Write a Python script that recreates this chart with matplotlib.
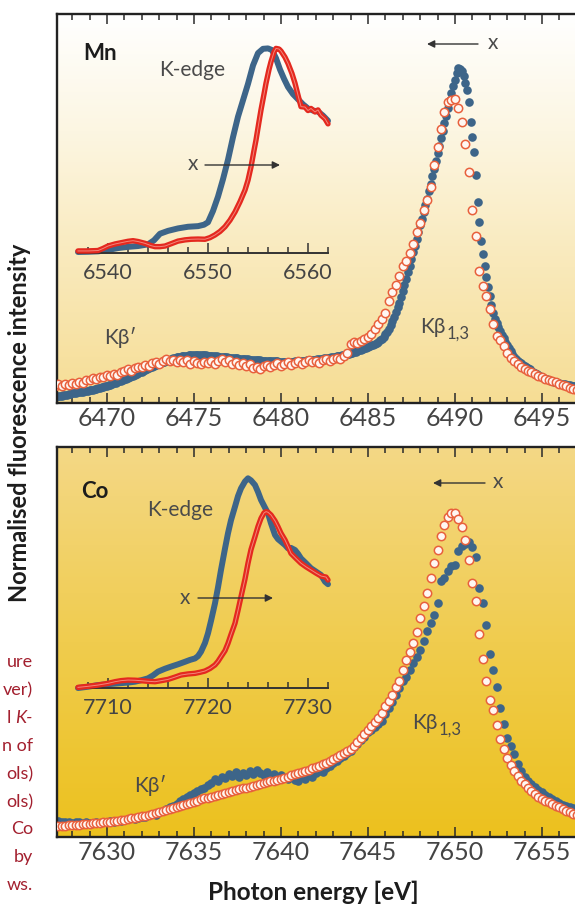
import numpy as np
import matplotlib
matplotlib.use("Agg")
import matplotlib.pyplot as plt
from matplotlib.ticker import MultipleLocator, FormatStrFormatter
from matplotlib.text import Annotation

plt.rcParams['font.family'] = ['Lato', 'Noto Sans', 'DejaVu Sans']

# ---------------------------------------------------------------- data
# Kbeta emission spectra, normalised intensity (x1000)
mn_kb_energy_blue = np.linspace(6467.0, 6497.0, 301)
mn_kb_blue = [
    18, 19, 20, 21, 22, 23, 24, 25, 26, 28,
    29, 30, 31, 32, 33, 33, 34, 35, 36, 37,
    38, 39, 40, 41, 43, 44, 45, 47, 48, 50,
    52, 53, 55, 57, 59, 61, 63, 65, 67, 69,
    71, 73, 76, 78, 80, 82, 85, 87, 89, 92,
    94, 96, 99, 101, 103, 106, 108, 110, 113, 115,
    117, 119, 121, 123, 125, 127, 129, 131, 133, 135,
    136, 137, 138, 139, 140, 141, 141, 142, 142, 143,
    143, 143, 143, 143, 143, 142, 142, 142, 141, 141,
    140, 140, 139, 139, 138, 138, 137, 137, 136, 136,
    135, 135, 134, 134, 133, 133, 132, 132, 131, 131,
    130, 130, 129, 129, 128, 128, 127, 127, 127, 126,
    126, 126, 125, 125, 125, 124, 124, 124, 124, 123,
    123, 123, 123, 123, 123, 123, 123, 123, 124, 124,
    124, 125, 125, 126, 126, 127, 127, 128, 128, 129,
    129, 130, 131, 131, 132, 133, 134, 135, 135, 136,
    137, 138, 139, 140, 141, 142, 143, 144, 146, 147,
    148, 150, 151, 153, 155, 157, 159, 161, 163, 165,
    167, 169, 172, 174, 177, 180, 183, 187, 192, 198,
    205, 213, 222, 233, 245, 258, 272, 286, 300, 317,
    335, 352, 370, 390, 410, 430, 450, 470, 490, 510,
    530, 550, 570, 590, 610, 633, 655, 678, 700, 722,
    745, 768, 790, 813, 835, 857, 880, 903, 925, 947,
    965, 985, 1000, 998, 990, 975, 955, 935, 900, 840,
    795, 750, 680, 600, 540, 485, 445, 410, 375, 345,
    318, 292, 268, 252, 238, 226, 215, 203, 193, 182,
    172, 163, 154, 146, 138, 132, 126, 122, 118, 114,
    110, 107, 103, 100, 96, 93, 90, 87, 83, 80,
    77, 75, 73, 71, 69, 67, 65, 63, 62, 60,
    59, 58, 57, 56, 55, 54, 53, 52, 51, 50,
    49,
]
mn_kb_energy_red = np.linspace(6467.0, 6497.0, 151)
mn_kb_red = [
    50, 56, 52, 58, 55, 60, 57, 64, 61, 68,
    70, 75, 72, 79, 77, 83, 80, 88, 85, 92,
    95, 100, 97, 104, 108, 106, 113, 110, 118, 121,
    117, 126, 130, 124, 129, 121, 127, 122, 128, 117,
    124, 119, 116, 123, 118, 125, 117, 124, 130, 121,
    127, 116, 122, 113, 119, 110, 115, 104, 108, 102,
    109, 113, 106, 112, 118, 110, 117, 121, 114, 119,
    124, 117, 122, 128, 121, 126, 120, 127, 131, 125,
    130, 135, 131, 140, 148, 176, 181, 178, 186, 190,
    196, 205, 220, 236, 252, 270, 305, 332, 352, 380,
    410, 425, 447, 475, 510, 538, 575, 605, 645, 710,
    765, 818, 868, 898, 905, 906, 880, 840, 772, 690,
    575, 500, 395, 350, 320, 282, 235, 200, 188, 170,
    150, 135, 126, 116, 108, 102, 97, 92, 87, 82,
    77, 73, 69, 65, 62, 58, 54, 50, 46, 42,
    40,
]
co_kb_energy = np.linspace(7627.0, 7657.0, 151)
co_kb_blue = [
    45, 47, 46, 44, 45, 43, 46, 44, 42, 45,
    43, 41, 44, 42, 46, 44, 47, 45, 49, 47,
    51, 54, 56, 53, 58, 61, 59, 65, 68, 66,
    74, 79, 85, 89, 94, 100, 108, 113, 118, 124,
    130, 136, 142, 147, 156, 161, 172, 168, 180, 176,
    188, 182, 193, 179, 190, 184, 196, 188, 200, 192,
    185, 195, 183, 188, 178, 186, 176, 172, 181, 170,
    166, 178, 174, 185, 180, 190, 198, 195, 207, 213,
    220, 228, 235, 242, 250, 258, 268, 278, 290, 300,
    312, 320, 328, 336, 345, 368, 385, 402, 425, 445,
    465, 479, 499, 518, 538, 558, 585, 615, 640, 662,
    700, 765, 772, 795, 808, 812, 855, 868, 874, 882,
    866, 835, 742, 700, 632, 545, 498, 449, 386, 336,
    296, 272, 248, 218, 196, 178, 167, 157, 150, 140,
    133, 126, 119, 112, 106, 101, 97, 93, 89, 86,
    84,
]
co_kb_red = [
    32, 33, 34, 34, 35, 36, 36, 37, 38, 39,
    40, 41, 42, 43, 44, 45, 46, 47, 49, 50,
    52, 54, 56, 58, 60, 62, 64, 67, 69, 71,
    74, 77, 80, 83, 86, 89, 92, 95, 98, 101,
    104, 108, 112, 115, 117, 120, 123, 126, 128, 131,
    134, 137, 139, 142, 145, 147, 150, 152, 155, 157,
    160, 163, 166, 168, 171, 174, 177, 180, 184, 187,
    190, 194, 197, 201, 205, 209, 213, 218, 222, 227,
    232, 238, 244, 250, 257, 264, 272, 284, 296, 308,
    320, 331, 343, 355, 370, 390, 405, 423, 448, 465,
    498, 527, 552, 578, 613, 655, 690, 728, 772, 817,
    858, 898, 930, 955, 966, 968, 950, 925, 886, 826,
    758, 705, 605, 530, 465, 410, 379, 334, 292, 263,
    237, 216, 197, 181, 168, 157, 147, 137, 128, 120,
    113, 108, 103, 98, 94, 89, 84, 79, 74, 70,
    67,
]

# K-edge absorption spectra (insets), normalised
mn_edge_blue_e = [6537.0, 6538.0, 6539.0, 6540.0, 6541.0, 6542.0, 6543.0, 6544.0,
                  6544.6, 6545.2, 6546.0, 6547.0, 6548.0, 6549.0, 6549.6, 6550.0,
                  6550.5, 6551.0, 6551.5, 6552.0, 6552.5, 6553.0, 6553.5, 6554.0,
                  6554.5, 6555.0, 6555.5, 6556.0, 6556.4, 6556.8, 6557.2, 6557.6,
                  6558.0, 6558.5, 6559.0, 6559.5, 6560.0, 6560.5, 6561.0, 6561.5, 6562.0]
mn_edge_blue = [0.005, 0.006, 0.008, 0.015, 0.024, 0.030, 0.034, 0.042,
                0.062, 0.094, 0.108, 0.120, 0.128, 0.131, 0.138, 0.150,
                0.205, 0.275, 0.360, 0.455, 0.565, 0.665, 0.745, 0.825,
                0.915, 0.975, 0.996, 0.998, 0.990, 0.950, 0.895, 0.850,
                0.810, 0.775, 0.750, 0.725, 0.705, 0.695, 0.690, 0.670, 0.645]
mn_edge_red_e = [6537.0, 6538.0, 6539.0, 6539.5, 6540.0, 6540.7, 6541.3, 6542.0,
                 6542.5, 6543.0, 6543.7, 6544.3, 6544.7, 6545.2, 6545.7, 6546.3,
                 6547.0, 6547.7, 6548.3, 6549.0, 6549.7, 6550.2, 6550.7, 6551.2,
                 6551.7, 6552.2, 6552.7, 6553.2, 6553.7, 6554.0, 6554.3, 6554.6,
                 6554.8, 6555.1, 6555.3, 6555.6, 6555.8, 6556.1, 6556.3, 6556.6,
                 6556.8, 6557.1, 6557.3, 6557.7, 6558.0, 6558.4, 6558.7, 6559.0,
                 6559.3, 6559.7, 6560.0, 6560.3, 6560.7, 6561.0, 6561.3, 6561.7, 6562.0]
mn_edge_red = [0.010, 0.010, 0.012, 0.022, 0.034, 0.044, 0.050, 0.057,
               0.060, 0.056, 0.047, 0.036, 0.031, 0.031, 0.034, 0.045,
               0.058, 0.064, 0.067, 0.068, 0.067, 0.075, 0.088, 0.105,
               0.128, 0.160, 0.200, 0.250, 0.307, 0.355, 0.420, 0.500,
               0.551, 0.640, 0.698, 0.775, 0.828, 0.895, 0.933, 0.980,
               0.998, 0.995, 0.985, 0.955, 0.925, 0.875, 0.828, 0.770,
               0.714, 0.712, 0.695, 0.705, 0.688, 0.698, 0.672, 0.655, 0.630]

co_edge_blue_e = [7707.0, 7708.0, 7709.0, 7710.0, 7711.0, 7712.0, 7712.7, 7713.4,
                  7714.0, 7714.5, 7715.0, 7715.7, 7716.3, 7717.0, 7717.7, 7718.2,
                  7718.7, 7719.0, 7719.3, 7719.7, 7720.0, 7720.3, 7720.7, 7721.0,
                  7721.3, 7721.7, 7722.0, 7722.3, 7722.7, 7723.0, 7723.3, 7723.7,
                  7724.0, 7724.3, 7724.7, 7725.0, 7725.3, 7725.7, 7726.0, 7726.3,
                  7726.7, 7727.0, 7727.3, 7727.7, 7728.0, 7728.3, 7728.7, 7729.0,
                  7729.3, 7729.8, 7730.3, 7730.8, 7731.3, 7731.7, 7732.0]
co_edge_blue = [0.000, 0.006, 0.014, 0.018, 0.022, 0.026, 0.030, 0.038,
                0.046, 0.060, 0.078, 0.092, 0.102, 0.113, 0.125, 0.134,
                0.141, 0.152, 0.173, 0.215, 0.261, 0.320, 0.404, 0.480,
                0.563, 0.665, 0.738, 0.800, 0.865, 0.915, 0.952, 0.985,
                1.000, 0.990, 0.968, 0.935, 0.897, 0.860, 0.833, 0.785,
                0.730, 0.710, 0.698, 0.682, 0.666, 0.668, 0.658, 0.640,
                0.618, 0.595, 0.571, 0.555, 0.539, 0.507, 0.495]
co_edge_red_e = [7707.0, 7708.0, 7709.0, 7710.0, 7710.7, 7711.3, 7712.0, 7712.7,
                 7713.3, 7714.0, 7714.7, 7715.3, 7716.0, 7716.7, 7717.3, 7718.0,
                 7718.7, 7719.2, 7719.7, 7720.2, 7720.7, 7721.0, 7721.3, 7721.7,
                 7722.0, 7722.3, 7722.7, 7723.0, 7723.3, 7723.7, 7724.0, 7724.3,
                 7724.7, 7725.0, 7725.3, 7725.6, 7725.8, 7726.0, 7726.3, 7726.7,
                 7727.0, 7727.3, 7727.7, 7728.0, 7728.3, 7728.8, 7729.3, 7729.8,
                 7730.3, 7730.8, 7731.3, 7731.8, 7732.0]
co_edge_red = [0.003, 0.008, 0.014, 0.022, 0.030, 0.035, 0.038, 0.037,
               0.035, 0.032, 0.030, 0.035, 0.041, 0.052, 0.062, 0.067,
               0.070, 0.075, 0.081, 0.093, 0.110, 0.127, 0.149, 0.178,
               0.213, 0.255, 0.309, 0.370, 0.435, 0.520, 0.595, 0.660,
               0.722, 0.770, 0.809, 0.835, 0.841, 0.838, 0.825, 0.797,
               0.769, 0.738, 0.706, 0.675, 0.642, 0.618, 0.595, 0.578,
               0.563, 0.548, 0.534, 0.529, 0.515]

main_ticks_mn = [6470, 6475, 6480, 6485, 6490, 6495]
main_ticks_co = [7630, 7635, 7640, 7645, 7650, 7655]
inset_ticks_mn = [6540, 6550, 6560]
inset_ticks_co = [7710, 7720, 7730]

# ---------------------------------------------------------------- style
W, H = 575, 906
BLUE = '#3d6589'
RED_EDGE = '#e8603c'
RED_FACE = '#fff7f2'
RED_LINE = '#e4291f'
TXT = '#4a4a4a'
DARK = '#1c1c1c'
CAPTION = '#a3202f'

fig = plt.figure(figsize=(W / 100, H / 100), dpi=100)
fig.patch.set_facecolor('white')


def fx(px):
    return px / W


def fy(py):
    return 1 - py / H


def gradient(ax, stops):
    """Vertical colour gradient filling the axes; stops = [(frac, rgb), ...] bottom->top."""
    n = 256
    t = np.linspace(0, 1, n)
    fr = [s[0] for s in stops]
    img = np.zeros((n, 1, 3))
    for c in range(3):
        img[:, 0, c] = np.interp(t, fr, [s[1][c] / 255 for s in stops])
    ax.imshow(img, extent=[0, 1, 0, 1], transform=ax.transAxes, aspect='auto',
              origin='lower', interpolation='bicubic', zorder=0)


def main_panel(top_px, bot_px, xlim, ticks, stops):
    rect = [fx(57), fy(bot_px), fx(575) - fx(57), (bot_px - top_px) / H]
    ax = fig.add_axes(rect)
    gradient(ax, stops)
    ax.set_xlim(*xlim)
    ax.set_ylim(0, (bot_px - top_px) / 335.0 * 1000)
    ax.set_xticks(ticks)
    ax.xaxis.set_minor_locator(MultipleLocator(1))
    ax.xaxis.set_major_formatter(FormatStrFormatter('%d'))
    ax.set_yticks([])
    ax.tick_params(axis='x', which='both', direction='in', top=True, bottom=True,
                   color='#2a2a2a', width=1.1)
    ax.tick_params(axis='x', which='major', length=7, labelsize=18,
                   labelcolor='#444444', pad=3)
    ax.tick_params(axis='x', which='minor', length=4)
    for s in ('left', 'top', 'bottom'):
        ax.spines[s].set_linewidth(1.7)
        ax.spines[s].set_color('#222222')
    ax.spines['right'].set_visible(False)
    return ax


def inset_panel(base_px, xlim, ticks, ytop):
    rect = [fx(78), fy(base_px), fx(328) - fx(78), 213 / H]
    ins = fig.add_axes(rect)
    ins.patch.set_alpha(0)
    ins.set_xlim(*xlim)
    ins.set_ylim(0, ytop)
    ins.set_xticks(ticks)
    ins.xaxis.set_minor_locator(MultipleLocator(2))
    ins.xaxis.set_major_formatter(FormatStrFormatter('%d'))
    ins.set_yticks([])
    for s in ('left', 'top', 'right'):
        ins.spines[s].set_visible(False)
    ins.spines['bottom'].set_linewidth(1.4)
    ins.spines['bottom'].set_color('#333333')
    ins.tick_params(axis='x', which='both', direction='in', color='#333333', width=1.1)
    ins.tick_params(axis='x', which='major', length=7, labelsize=15.5,
                    labelcolor='#444444', pad=7)
    ins.tick_params(axis='x', which='minor', length=4)
    return ins


def draw_kbeta(ax, e_blue, blue, e_red, red):
    ax.plot(e_blue, blue, 'o', ms=6.2, color=BLUE, mec=BLUE, mew=0, zorder=2)
    ax.plot(e_red, red, 'o', ms=6.0, mfc=RED_FACE, mec=RED_EDGE, mew=1.1, zorder=3)


def draw_edge(ins, eb, yb, er, yr):
    ins.plot(eb, yb, color=BLUE, lw=4.3, solid_capstyle='round',
             solid_joinstyle='round', clip_on=False, zorder=2)
    ins.plot(er, yr, color=RED_LINE, lw=3.9, solid_capstyle='round',
             solid_joinstyle='round', clip_on=False, zorder=3)
    ins.plot(er, yr, color='#ffd2c6', lw=0.7, alpha=0.55, clip_on=False, zorder=4)


# ---------------------------------------------------------------- Mn
mn_stops = [(0.0, (246, 221, 148)), (0.35, (249, 233, 186)),
            (0.7, (252, 246, 226)), (1.0, (255, 255, 255))]
ax_mn = main_panel(14, 403, (6467.13, 6496.9), main_ticks_mn, mn_stops)
draw_kbeta(ax_mn, mn_kb_energy_blue, mn_kb_blue, mn_kb_energy_red, mn_kb_red)

ins_mn = inset_panel(253, (6537.0, 6562.0), inset_ticks_mn, 213 / 205)
draw_edge(ins_mn, mn_edge_blue_e, mn_edge_blue, mn_edge_red_e, mn_edge_red)

# ---------------------------------------------------------------- Co
co_stops = [(0.0, (236, 193, 30)), (0.5, (240, 204, 78)), (1.0, (244, 216, 134))]
ax_co = main_panel(447, 837, (7627.13, 7656.9), main_ticks_co, co_stops)
draw_kbeta(ax_co, co_kb_energy, co_kb_blue, co_kb_energy, co_kb_red)

ins_co = inset_panel(688, (7707.0, 7732.0), inset_ticks_co, 213 / 209.7)
draw_edge(ins_co, co_edge_blue_e, co_edge_blue, co_edge_red_e, co_edge_red)

# ---------------------------------------------------------------- labels


def label(px, py, s, **kw):
    opts = dict(fontsize=15, color=TXT, ha='left', va='center')
    opts.update(kw)
    return fig.text(fx(px), fy(py), s, **opts)


def fig_annotate(text, **kw):
    a = Annotation(text, **kw)
    a.set_clip_on(False)
    fig.add_artist(a)
    return a


def kbeta13(px, py):
    t = label(px, py, 'K\u03b2')
    fig_annotate('1,3', xy=(1.0, 0.15), xycoords=t, xytext=(0.6, 0),
                 textcoords='offset points', fontsize=12, color=TXT,
                 ha='left', va='center')


def arrow(x0, x1, py):
    a = fig_annotate('', xy=(x1, H - py), xytext=(x0, H - py),
                     xycoords='figure pixels', textcoords='figure pixels',
                     arrowprops=dict(arrowstyle='-|>', color='#333333', lw=1.0,
                                     mutation_scale=11, shrinkA=0, shrinkB=0))
    a.arrow_patch.set_clip_on(False)


# Mn panel
label(83, 54, 'Mn', fontweight='bold', color=DARK, fontsize=16)
label(192, 70, 'K-edge', ha='center')
label(193, 164, 'x', ha='center')
arrow(205, 280, 165)
arrow(478, 427, 44)
label(493, 43, 'x', ha='center')
kbeta13(420, 327)
label(120, 337, 'K\u03b2\u2032', ha='center')

# Co panel
label(81, 492, 'Co', fontweight='bold', color=DARK, fontsize=16)
label(180, 510, 'K-edge', ha='center')
label(185, 598, 'x', ha='center')
arrow(198, 273, 598)
arrow(485, 433, 483)
label(498, 482, 'x', ha='center')
kbeta13(412, 723)
label(150, 785, 'K\u03b2\u2032', ha='center')

# axis titles
label(20, 423, 'Normalised fluorescence intensity', rotation=90, ha='center',
      fontsize=17, fontweight='bold', color=DARK)
label(313, 892, 'Photon energy [eV]', ha='center', fontsize=17.5,
      fontweight='bold', color=DARK)

# caption fragment on the left margin
cap_lines = [(662, 'ure'), (690, 'ver)'), (746, 'n of'), (774, 'ols)'),
             (802, 'ols)'), (829, 'Co'), (857, 'by'), (885, 'ws.')]
for py, s in cap_lines:
    label(33, py, s, ha='right', color=CAPTION, fontsize=13)
tk = label(33, 718, 'K-', ha='right', color=CAPTION, fontsize=13, style='italic')
fig_annotate('l', xy=(0, 0.5), xycoords=tk, xytext=(-3.5, 0),
             textcoords='offset points', ha='right', va='center',
             color=CAPTION, fontsize=13)

fig.savefig('out.png', dpi=100, facecolor='white')
